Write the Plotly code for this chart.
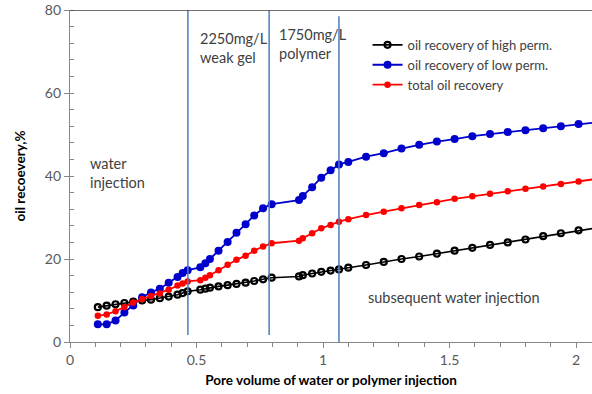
import plotly.graph_objects as go

# Pore volume injected (PV) at each measurement
pv = [0.11, 0.145, 0.18, 0.215, 0.25, 0.285, 0.32, 0.355, 0.39, 0.425, 0.445, 0.465,
      0.515, 0.535, 0.553, 0.587, 0.623, 0.658, 0.694, 0.728, 0.763, 0.797,
      0.905, 0.92, 0.957, 0.993, 1.03, 1.063,
      1.1, 1.17, 1.24, 1.31, 1.38, 1.45, 1.52, 1.59, 1.66, 1.73, 1.80, 1.87, 1.94, 2.01, 2.08]

# Oil recovery (%) of the high-permeability core
high_perm = [8.4, 8.75, 9.1, 9.4, 9.75, 10.0, 10.2, 10.55, 10.95, 11.4, 11.8, 12.2,
             12.6, 12.85, 13.1, 13.4, 13.7, 14.0, 14.3, 14.7, 15.1, 15.5,
             15.8, 16.1, 16.5, 16.9, 17.2, 17.5,
             17.9, 18.55, 19.3, 20.0, 20.6, 21.3, 22.0, 22.7, 23.4, 24.0, 24.7, 25.5, 26.2, 26.9, 27.5]

# Oil recovery (%) of the low-permeability core
low_perm = [4.25, 4.25, 5.2, 7.1, 8.8, 10.8, 11.95, 12.85, 14.3, 15.65, 16.6, 17.3,
            18.0, 19.0, 20.0, 22.0, 24.1, 26.3, 28.4, 30.5, 32.2, 33.2,
            34.2, 35.2, 37.3, 39.6, 41.4, 42.8,
            43.4, 44.65, 45.5, 46.6, 47.5, 48.3, 48.9, 49.6, 50.1, 50.6, 51.0, 51.5, 52.0, 52.5, 52.9]

# Total oil recovery (%)
total = [6.3, 6.65, 7.4, 8.45, 9.5, 10.35, 11.1, 11.7, 12.6, 13.6, 14.1, 14.6,
         14.9, 15.5, 16.1, 17.3, 18.6, 19.8, 20.8, 22.0, 23.0, 23.8,
         24.4, 25.0, 26.2, 27.4, 28.2, 29.0,
         29.6, 30.6, 31.4, 32.2, 33.0, 33.7, 34.5, 35.1, 35.7, 36.3, 36.9, 37.5, 38.1, 38.7, 39.3]

series_names = ["oil recovery of high perm.", "oil recovery of low perm.", "total oil recovery"]

# PV at which the injected fluid changes (gel start, polymer start, post water start)
stage_bounds = [0.466, 0.787, 1.063]
stage_spans = [(1.7, 80.0), (1.7, 80.3), (-1.2, 78.5)]

FONT = "Lato, Calibri, 'Open Sans', sans-serif"
TXT = "#404040"

fig = go.Figure()

fig.add_trace(go.Scatter(
    x=pv, y=high_perm, name=series_names[0], mode="lines+markers",
    line=dict(color="#000000", width=1.6),
    marker=dict(symbol="circle-open", size=6, color="#000000", line=dict(width=2.2)),
))
fig.add_trace(go.Scatter(
    x=pv, y=low_perm, name=series_names[1], mode="lines+markers",
    line=dict(color="#0000cc", width=1.8),
    marker=dict(symbol="circle", size=8, color="#0000cc"),
))
fig.add_trace(go.Scatter(
    x=pv, y=total, name=series_names[2], mode="lines+markers",
    line=dict(color="#ff0000", width=1.8),
    marker=dict(symbol="circle", size=6.5, color="#ff0000"),
))

# stage boundary lines
for xb, (y0, y1) in zip(stage_bounds, stage_spans):
    fig.add_shape(type="line", xref="x", yref="y", x0=xb, x1=xb, y0=y0, y1=y1,
                  line=dict(color="#4a7ebb", width=1.5), layer="above")

# top border of the plot area
fig.add_shape(type="line", xref="paper", yref="y", x0=0, x1=1, y0=80, y1=80,
              line=dict(color="#404040", width=1.3))

notes = [
    (0.506, 70.8, "2250mg/L<br>weak gel"),
    (0.818, 71.8, "1750mg/L<br>polymer"),
    (0.071, 40.7, "water<br>injection"),
    (1.17, 10.8, "subsequent water injection"),
]
for xn, yn, t in notes:
    fig.add_annotation(x=xn, y=yn, xref="x", yref="y", text=t, showarrow=False,
                       xanchor="left", yanchor="middle", align="left",
                       font=dict(family=FONT, size=14.5, color=TXT))

fig.update_layout(
    width=592, height=394,
    margin=dict(l=70, r=0, t=10, b=52),
    paper_bgcolor="white", plot_bgcolor="white",
    font=dict(family=FONT, color=TXT),
    showlegend=True,
    legend=dict(x=0.57, y=0.94, xanchor="left", yanchor="top",
                bgcolor="rgba(0,0,0,0)", font=dict(family=FONT, size=13, color=TXT),
                tracegroupgap=0, itemwidth=30),
)

fig.update_xaxes(
    range=[0, 2.063], dtick=0.5, tick0=0,
    showgrid=False, zeroline=False,
    showline=True, linecolor="#868686", linewidth=1.3,
    ticks="outside", ticklen=5, tickcolor="#868686",
    minor=dict(dtick=0.1, ticks="outside", ticklen=4, tickcolor="#868686"),
    tickfont=dict(family=FONT, size=14, color="#595959"),
    title=dict(text="<b>Pore volume of water or polymer injection</b>",
               font=dict(family=FONT, size=13.5, color="#000000"), standoff=8),
)
fig.update_yaxes(
    range=[0, 80], dtick=20,
    showgrid=False, zeroline=False,
    showline=True, linecolor="#868686", linewidth=1.3,
    ticks="outside", ticklen=5, tickcolor="#868686",
    minor=dict(dtick=4, ticks="inside", ticklen=4, tickcolor="#868686"),
    tickfont=dict(family=FONT, size=14, color="#595959"),
    title=dict(text="<b>oil recoevery,%</b>",
               font=dict(family=FONT, size=13.5, color="#000000"), standoff=16),
)

fig.write_html("out.html")
